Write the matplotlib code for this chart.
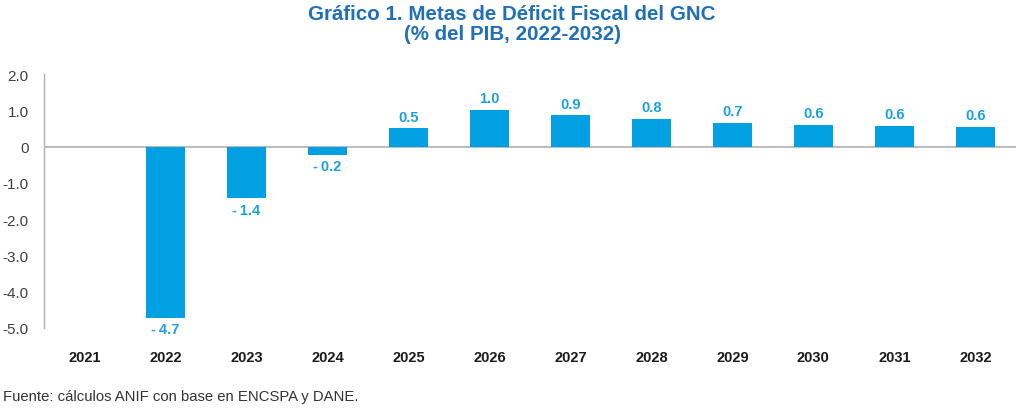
import numpy as np
import matplotlib
matplotlib.use("Agg")
import matplotlib.pyplot as plt
from matplotlib.ticker import FuncFormatter

plt.rcParams['font.family'] = ['Liberation Sans', 'DejaVu Sans']

years = ['2021', '2022', '2023', '2024', '2025', '2026',
         '2027', '2028', '2029', '2030', '2031', '2032']
deficit = [np.nan, -4.72, -1.43, -0.22, 0.5, 1.0,
           0.86, 0.76, 0.66, 0.6, 0.56, 0.55]
yticks = [2.0, 1.0, 0.0, -1.0, -2.0, -3.0, -4.0, -5.0]

azul = '#00a0e3'
etiqueta_color = '#1ba1e2'
titulo_color = '#1f70b8'

fig = plt.figure(figsize=(10.24, 4.10), dpi=100)
ax = fig.add_axes([0.043, 0.1976, 0.949, 0.6194])

x = np.arange(len(years))
bars = ax.bar(x, deficit, width=0.48, color=azul, zorder=2)

# etiquetas de valores
for xi, v in zip(x, deficit):
    if np.isnan(v):
        continue
    if v >= 0:
        ax.annotate(f'{v:.1f}', (xi, v), xytext=(0, 3.5), textcoords='offset points',
                    ha='center', va='bottom', color=etiqueta_color, fontsize=10.5, fontweight='bold')
    else:
        ax.annotate(f'-\u2009{abs(v):.1f}', (xi, v), xytext=(0, -3), textcoords='offset points',
                    ha='center', va='top', color=etiqueta_color, fontsize=10.5, fontweight='bold')

ax.axhline(0, color='#b0b0b0', lw=1.2, zorder=1)
ax.set_xlim(-0.5, len(years) - 0.5)
ax.set_ylim(-5.0, 2.0)
ax.set_yticks(yticks)
ax.yaxis.set_major_formatter(FuncFormatter(lambda v, p: '0' if v == 0 else f'{v:.1f}'))
ax.set_xticks(x)
ax.set_xticklabels(years, fontweight='bold', fontsize=10.5, color='#1a1a1a')

ax.tick_params(axis='x', length=0, pad=16)
ax.tick_params(axis='y', length=0, pad=11, labelsize=11, labelcolor='#404040')

for s in ['top', 'right', 'bottom']:
    ax.spines[s].set_visible(False)
ax.spines['left'].set_color('#b0b0b0')
ax.spines['left'].set_linewidth(1.0)

fig.text(0.5, 0.988, 'Gráfico 1. Metas de Déficit Fiscal del GNC\n(% del PIB, 2022-2032)',
         ha='center', va='top', color=titulo_color, fontsize=14.8, fontweight='bold',
         linespacing=1.05)
fig.text(0.003, 0.015, 'Fuente: cálculos ANIF con base en ENCSPA y DANE.',
         ha='left', va='bottom', color='#333333', fontsize=10.7)

fig.savefig('out.png', dpi=100)
